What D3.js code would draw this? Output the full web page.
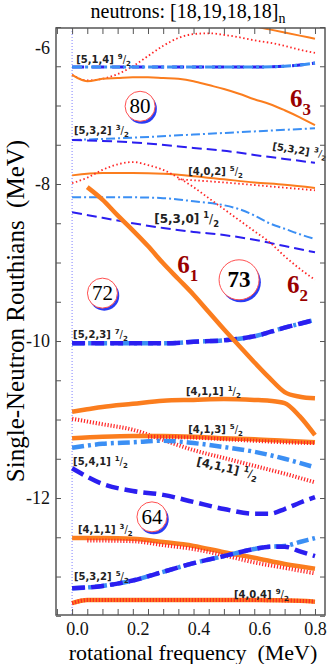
<!DOCTYPE html>
<html>
<head>
<meta charset="utf-8">
<script src="https://cdn.jsdelivr.net/npm/d3@7"></script>
<style>
  html, body { margin: 0; padding: 0; background: #fff; }
  svg { display: block; }
</style>
</head>
<body>
<div id="chart"></div>
<script>
// --- data: rotational frequency (MeV) vs Routhian (MeV) ---
const orangeTop = [[0.6,-5.99],[0.65,-6.03],[0.7,-6.07],[0.75,-6.11],[0.8,-6.15]];
const sig63Dot = [[0,-6.61],[0.05,-6.68],[0.1,-6.66],[0.15,-6.6],[0.2,-6.5],[0.25,-6.37],[0.3,-6.24],[0.35,-6.14],[0.4,-6.09],[0.45,-6.08],[0.5,-6.1],[0.55,-6.13],[0.6,-6.17],[0.65,-6.2],[0.7,-6.24],[0.75,-6.29],[0.8,-6.33]];
const band63 = [[0,-6.61],[0.05,-6.69],[0.1,-6.66],[0.15,-6.65],[0.2,-6.64],[0.25,-6.64],[0.3,-6.65],[0.35,-6.66],[0.4,-6.69],[0.45,-6.74],[0.5,-6.79],[0.55,-6.85],[0.6,-6.92],[0.65,-6.98],[0.7,-7.06],[0.75,-7.15],[0.8,-7.25]];
const b514 = [[0,-6.51],[0.2,-6.51],[0.4,-6.51],[0.6,-6.51],[0.7,-6.5],[0.8,-6.46]];
const b532Up = [[0,-7.44],[0.2,-7.41],[0.4,-7.37],[0.6,-7.33],[0.8,-7.29]];
const b532Dn = [[0,-7.44],[0.2,-7.47],[0.4,-7.54],[0.53,-7.59],[0.6,-7.63],[0.7,-7.68],[0.8,-7.73]];
const b402 = [[0,-7.89],[0.1,-7.86],[0.2,-7.86],[0.3,-7.87],[0.4,-7.9],[0.5,-7.94],[0.6,-7.98],[0.7,-8.01],[0.8,-8.05]];
const b402Dot = [[0.35,-7.94],[0.5,-7.98],[0.65,-8.03],[0.8,-8.08]];
const sig62 = [[0,-7.99],[0.05,-7.92],[0.1,-7.82],[0.15,-7.75],[0.2,-7.72],[0.25,-7.76],[0.3,-7.82],[0.35,-7.92],[0.4,-8.04],[0.45,-8.18],[0.5,-8.32],[0.55,-8.46],[0.6,-8.6],[0.65,-8.74],[0.7,-8.92],[0.75,-9.08],[0.8,-9.22]];
const sig61 = [[0.05,-8.04],[0.1,-8.2],[0.15,-8.4],[0.2,-8.59],[0.25,-8.79],[0.3,-9.01],[0.35,-9.21],[0.4,-9.41],[0.45,-9.63],[0.5,-9.85],[0.55,-10.06],[0.6,-10.27],[0.65,-10.47],[0.7,-10.65],[0.75,-10.71],[0.8,-10.73]];
const b530Up = [[0,-8.17],[0.1,-8.17],[0.2,-8.17],[0.3,-8.18],[0.4,-8.22],[0.5,-8.27],[0.55,-8.32],[0.6,-8.4],[0.65,-8.5],[0.7,-8.57],[0.75,-8.64],[0.8,-8.7]];
const b530Dn = [[0,-8.36],[0.1,-8.43],[0.2,-8.5],[0.3,-8.56],[0.4,-8.61],[0.5,-8.65],[0.6,-8.71],[0.7,-8.79],[0.8,-8.87]];
const b523 = [[0,-10.03],[0.1,-10.03],[0.2,-10.03],[0.3,-10.03],[0.4,-10.01],[0.5,-9.99],[0.6,-9.94],[0.7,-9.83],[0.75,-9.78],[0.8,-9.73]];
const b411a = [[0,-10.9],[0.05,-10.87],[0.1,-10.84],[0.2,-10.8],[0.3,-10.76],[0.4,-10.75],[0.5,-10.74],[0.6,-10.75],[0.65,-10.76],[0.7,-10.79],[0.75,-10.96],[0.8,-11.2]];
const b413 = [[0,-11.24],[0.1,-11.22],[0.2,-11.21],[0.3,-11.21],[0.4,-11.22],[0.5,-11.24],[0.6,-11.25],[0.7,-11.27],[0.8,-11.29]];
const b413Dot = [[0.25,-11.22],[0.4,-11.23],[0.5,-11.25],[0.6,-11.27],[0.7,-11.29],[0.8,-11.3]];
const b411b = [[0,-10.99],[0.1,-11.06],[0.2,-11.13],[0.3,-11.26],[0.4,-11.39],[0.5,-11.49],[0.6,-11.59],[0.7,-11.69],[0.8,-11.8]];
const b541Up = [[0,-11.36],[0.1,-11.31],[0.2,-11.29],[0.3,-11.27],[0.4,-11.3],[0.5,-11.35],[0.6,-11.41],[0.7,-11.5],[0.8,-11.61]];
const b541Dn = [[0,-11.62],[0.1,-11.82],[0.2,-11.91],[0.3,-11.96],[0.4,-12.05],[0.5,-12.14],[0.6,-12.2],[0.65,-12.2],[0.7,-12.14],[0.75,-12.06],[0.8,-11.99]];
const b411c = [[0,-12.51],[0.1,-12.51],[0.2,-12.52],[0.3,-12.56],[0.4,-12.61],[0.5,-12.69],[0.6,-12.76],[0.7,-12.84],[0.8,-12.9]];
const b411cDot = [[0.05,-12.54],[0.2,-12.55],[0.3,-12.6],[0.4,-12.65],[0.5,-12.73],[0.6,-12.82],[0.7,-12.89],[0.8,-12.96]];
const b532cUp = [[0,-13.15],[0.1,-13.12],[0.2,-13.05],[0.3,-12.94],[0.4,-12.83],[0.5,-12.74],[0.6,-12.65],[0.65,-12.62],[0.7,-12.61],[0.75,-12.56],[0.8,-12.51]];
const b532cDn = [[0,-13.15],[0.1,-13.12],[0.2,-13.05],[0.3,-12.94],[0.4,-12.83],[0.5,-12.74],[0.6,-12.65],[0.65,-12.62],[0.7,-12.62],[0.75,-12.68],[0.8,-12.74]];
const b404 = [[0,-13.34],[0.05,-13.3],[0.2,-13.3],[0.4,-13.3],[0.6,-13.3],[0.75,-13.31],[0.8,-13.32]];

// band labels: [omega, E, nilsson, numerator, denominator, size, rotation]
const bandLabels = [
  [0.01, -6.46, "[5,1,4]", "9", "2", 10, 0],
  [0.003, -7.36, "[5,3,2]", "3", "2", 10, 0],
  [0.655, -7.56, "[5,3,2]", "3", "2", 10, 9],
  [0.379, -7.885, "[4,0,2]", "5", "2", 10, 0],
  [0.267, -8.50, "[5,3,0]", "1", "2", 12, 0],
  [0.0, -9.96, "[5,2,3]", "7", "2", 10, 0],
  [0.372, -10.69, "[4,1,1]", "1", "2", 10, 0],
  [0.379, -11.17, "[4,1,3]", "5", "2", 10, 0],
  [0.0, -11.58, "[5,4,1]", "1", "2", 10, 0],
  [0.405, -11.58, "[4,1,1]", "1", "2", 11.5, 13],
  [0.016, -12.45, "[4,1,1]", "3", "2", 10, 0],
  [0.003, -13.04, "[5,3,2]", "5", "2", 10, 0],
  [0.53, -13.27, "[4,0,4]", "9", "2", 10, 0]
];
// bands 6_k: [omega, E, subscript]
const sixLabels = [[0.718, -7.02, "3"], [0.346, -9.13, "1"], [0.708, -9.39, "2"]];
// gap numbers: [omega, E, text, radius, bold]
const gapCircles = [[0.224, -7.01, "80", 15, false], [0.1, -9.39, "72", 15, false], [0.55, -9.22, "73", 20, true], [0.263, -12.24, "64", 15, false]];
const yLabelTicks = [-6, -8, -10, -12];
const xLabelTicks = [0, 0.2, 0.4, 0.6, 0.8];

const ORANGE = "#fb7d1e", RED = "#ff2626", DKBLUE = "#2b1ef0", LTBLUE = "#3b8ff4", DKRED = "#990000";

const styles = {
  thinOrange: { c: ORANGE, w: 2, d: null },
  thickOrange: { c: ORANGE, w: 4.5, d: null },
  thinRedDot: { c: RED, w: 1.8, d: "1.5,2.5" },
  redHatch: { c: RED, w: 4, d: "1.2,1.8" },
  thinLtDashDot: { c: LTBLUE, w: 2, d: "9,3,2,3" },
  thinDkDash: { c: DKBLUE, w: 2, d: "10,5" },
  midLtDashDot: { c: LTBLUE, w: 3, d: "10,3,3,3" },
  midDkDash: { c: DKBLUE, w: 3, d: "12,8" },
  thickLtDashDot: { c: LTBLUE, w: 4.5, d: "12,4,3,4" },
  thickDkDash: { c: DKBLUE, w: 4.5, d: "13,6" }
};

const curves = [
  [orangeTop, "thinOrange"], [sig63Dot, "thinRedDot"], [band63, "thinOrange"],
  [b514, "midDkDash"], [b514, "midLtDashDot"],
  [b532Up, "thinLtDashDot"], [b532Dn, "thinDkDash"],
  [b530Up, "thinLtDashDot"], [b530Dn, "thinDkDash"],
  [b402, "thinOrange"], [b402Dot, "thinRedDot"], [sig62, "thinRedDot"],
  [b523, "thickLtDashDot"], [b523, "thickDkDash"],
  [b411b, "redHatch"], [b541Up, "thickLtDashDot"], [b541Dn, "thickDkDash"],
  [b413, "thickOrange"], [b413Dot, "redHatch"],
  [b411a, "thickOrange"], [sig61, "thickOrange"],
  [b411c, "thickOrange"], [b411cDot, "redHatch"],
  [b532cUp, "thickLtDashDot"], [b532cDn, "thickDkDash"],
  [b404, "thickOrange"], [b404, "redHatch"]
];

const width = 327, height = 664;
const svg = d3.select("#chart").append("svg").attr("width", width).attr("height", height);

const x = d3.scaleLinear().domain([-0.053, 0.833]).range([56, 325]);
const y = d3.scaleLinear().domain([-13.49, -6.0]).range([615, 27]);

svg.append("defs").append("clipPath").attr("id", "clip")
  .append("rect").attr("x", 56).attr("y", 28).attr("width", 269).attr("height", 587);

// title
const title = svg.append("text")
  .attr("x", 188).attr("y", 18)
  .attr("text-anchor", "middle")
  .style("font-family", "'Liberation Serif', serif").style("font-size", "20px")
  .text("neutrons: [18,19,18,18]");
title.append("tspan").attr("dy", 5).style("font-size", "14px").text("n");

// dotted line at omega = 0
svg.append("line")
  .attr("x1", x(0)).attr("x2", x(0)).attr("y1", 28).attr("y2", 615)
  .attr("stroke", "#7f7fff").attr("stroke-width", 1).attr("stroke-dasharray", "1,2");

// curves
const line = d3.line().x(d => x(d[0])).y(d => y(d[1])).curve(d3.curveMonotoneX);
const plot = svg.append("g").attr("clip-path", "url(#clip)");
curves.forEach(([data, s]) => {
  const st = styles[s];
  plot.append("path")
    .attr("d", line(data))
    .attr("fill", "none")
    .attr("stroke", st.c)
    .attr("stroke-width", st.w)
    .attr("stroke-dasharray", st.d);
});

// band labels
bandLabels.forEach(([w, e, nil, num, den, size, rot]) => {
  const t = svg.append("text")
    .attr("transform", `translate(${x(w) + 1},${y(e)}) rotate(${rot})`)
    .style("font-family", "'DejaVu Sans', sans-serif").style("font-weight", "bold")
    .style("font-size", size + "px").attr("fill", "#222");
  t.append("tspan").text(nil);
  t.append("tspan").attr("dx", 4).attr("dy", -size * 0.4).style("font-size", (size * 0.7) + "px").text(num);
  t.append("tspan").attr("dy", size * 0.4).style("font-weight", "normal").text("/");
  t.append("tspan").attr("dy", size * 0.3).style("font-size", (size * 0.7) + "px").text(den);
});

// 6_k labels
sixLabels.forEach(([w, e, k]) => {
  const t = svg.append("text")
    .attr("x", x(w)).attr("y", y(e))
    .style("font-family", "'Liberation Serif', serif").style("font-weight", "bold")
    .style("font-size", "25px").attr("fill", DKRED);
  t.append("tspan").text("6");
  t.append("tspan").attr("dy", 8).style("font-size", "17px").text(k);
});

// gap circles
gapCircles.forEach(([w, e, label, r, bold]) => {
  const g = svg.append("g").attr("transform", `translate(${x(w)},${y(e)})`);
  g.append("circle").attr("cx", 1.8).attr("cy", 2.5).attr("r", r).attr("fill", "#2a3cf5");
  g.append("circle").attr("r", r).attr("fill", "#fff").attr("stroke", "#ff5050").attr("stroke-width", 1);
  g.append("text")
    .attr("text-anchor", "middle").attr("dominant-baseline", "central")
    .style("font-family", "'Liberation Serif', serif")
    .style("font-weight", bold ? "bold" : "normal")
    .style("font-size", bold ? "23px" : "21px")
    .text(label);
});

// axes (ticks inside)
const yTicks = d3.range(-13.5, -5.99, 0.5);
const xTicks = d3.range(-0.05, 0.8301, 0.05);
const axisStyle = g => {
  g.select(".domain").remove();
  g.selectAll(".tick line").attr("stroke", "#555");
  g.attr("font-family", "'Liberation Serif', serif");
  g.selectAll("text").attr("fill", "#111");
};
const noText = g => g.selectAll("text").remove();

// tick marks
svg.append("g").attr("transform", "translate(56,0)")
  .call(d3.axisLeft(y).tickValues(yTicks).tickSize(-5)).call(axisStyle).call(noText);
svg.append("g").attr("transform", "translate(325,0)")
  .call(d3.axisRight(y).tickValues(yTicks).tickSize(-5)).call(axisStyle).call(noText);
svg.append("g").attr("transform", "translate(0,28)")
  .call(d3.axisTop(x).tickValues(xTicks).tickSize(-6)).call(axisStyle).call(noText);
svg.append("g").attr("transform", "translate(0,615)")
  .call(d3.axisBottom(x).tickValues(xTicks).tickSize(-6)).call(axisStyle).call(noText);

// tick labels
svg.append("g").attr("transform", "translate(56,0)")
  .call(d3.axisLeft(y).tickValues(yLabelTicks).tickSize(0).tickPadding(6).tickFormat(d => String(d)))
  .call(axisStyle)
  .call(g => g.selectAll(".tick line").remove())
  .attr("font-size", 18)
  .call(g => g.selectAll(".tick").filter(d => d === -6).select("text").attr("dy", "1.45em"));

svg.append("g").attr("transform", "translate(0,615)")
  .call(d3.axisBottom(x).tickValues(xLabelTicks).tickSize(0).tickPadding(7).tickFormat(d3.format(".1f")))
  .call(axisStyle)
  .call(g => g.selectAll(".tick line").remove())
  .attr("font-size", 18)
  .call(g => g.selectAll("text").attr("dx", d => d === 0.8 ? 0 : 5));

// frame
svg.append("rect")
  .attr("x", 56).attr("y", 28).attr("width", 269).attr("height", 587)
  .attr("fill", "none").attr("stroke", "#555").attr("stroke-width", 1.5);

// axis titles
svg.append("text")
  .attr("x", 193).attr("y", 659.5)
  .attr("text-anchor", "middle")
  .style("font-family", "'Liberation Serif', serif").style("font-size", "22px")
  .attr("xml:space", "preserve")
  .text("rotational frequency  (MeV)");

svg.append("text")
  .attr("transform", "translate(24,311) rotate(-90)")
  .attr("text-anchor", "middle")
  .style("font-family", "'Liberation Serif', serif").style("font-size", "25px")
  .attr("xml:space", "preserve")
  .text("Single-Neutron Routhians  (MeV)");
</script>
</body>
</html>
